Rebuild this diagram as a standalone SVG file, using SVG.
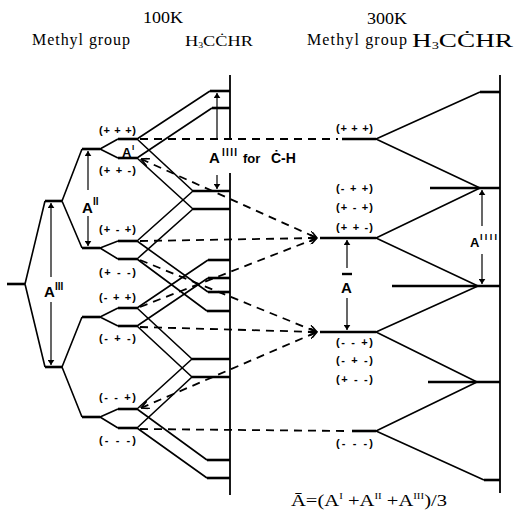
<svg xmlns="http://www.w3.org/2000/svg" width="516" height="512" viewBox="0 0 516 512">
  <defs>
    <!-- filled head for dimension arrows -->
    <marker id="dim" viewBox="0 0 6 8" refX="6" refY="4" markerUnits="userSpaceOnUse" markerWidth="5" markerHeight="7" orient="auto">
      <path d="M0,0 L6,4 L0,8 z" fill="#000"/>
    </marker>
    <!-- open head for dashed correlation lines -->
    <marker id="opn" viewBox="0 0 10 10" refX="10" refY="5" markerUnits="userSpaceOnUse" markerWidth="9" markerHeight="8" orient="auto-start-reverse">
      <path d="M0,0 L10,5 L0,10" fill="none" stroke="#000" stroke-width="2"/>
    </marker>
  </defs>
  <style>
    .lv{stroke:#000;stroke-width:2.6;fill:none;stroke-linecap:butt}
    .ln{stroke:#000;stroke-width:1.6;fill:none}
    .ds{stroke:#000;stroke-width:1.8;stroke-dasharray:8 6;fill:none}
    .ax{stroke:#000;stroke-width:1.8;fill:none}
    .dm{stroke:#000;stroke-width:1.2;fill:none}
    .hd{font-family:"Liberation Serif","Times New Roman",serif;fill:#000}
    .sp{font-family:"Liberation Sans",Arial,sans-serif;font-weight:bold;font-size:11px;fill:#000}
    .lb{font-family:"Liberation Sans",Arial,sans-serif;font-weight:bold;fill:#000}
  </style>
  <rect width="516" height="512" fill="#fff"/>

  <!-- column headings -->
  <g id="headings">
    <text class="hd" x="143" y="23" font-size="16" textLength="40" lengthAdjust="spacingAndGlyphs">100K</text>
    <text class="hd" x="32" y="45" font-size="16" textLength="98" lengthAdjust="spacing">Methyl group</text>
    <text class="hd" x="185" y="46" font-size="15" textLength="68" lengthAdjust="spacingAndGlyphs">H<tspan font-size="8" dy="2">3</tspan><tspan dy="-2">CĊHR</tspan></text>
    <text class="hd" x="367" y="24" font-size="16" textLength="40" lengthAdjust="spacingAndGlyphs">300K</text>
    <text class="hd" x="307" y="45" font-size="16" textLength="100" lengthAdjust="spacing">Methyl group</text>
    <text class="hd" x="412" y="47" font-size="19" textLength="101" lengthAdjust="spacingAndGlyphs">H<tspan font-size="10" dy="2">3</tspan><tspan dy="-2">CĊHR</tspan></text>
  </g>

  <!-- main vertical axes of the two H3CCHR columns -->
  <g id="axes">
    <line class="ax" x1="230" y1="75" x2="230" y2="138"/>
    <line class="ax" x1="230" y1="173" x2="230" y2="495"/>
    <line class="ax" x1="500" y1="75" x2="500" y2="493"/>
  </g>

  <!-- connectors -->
  <g id="connectors">
    <!-- A(III) and A(II) splittings -->
    <path class="ln" d="M25,284 L45,201 M25,284 L45,367"/>
    <path class="ln" d="M62,201 L82,149 M62,201 L82,248 M62,367 L82,317 M62,367 L82,417"/>
    <!-- A(I) splittings -->
    <path class="ln" d="M100,149 L118,139 M100,149 L118,158 M100,248 L118,241 M100,248 L118,259 M100,317 L118,308 M100,317 L118,326 M100,417 L118,409 M100,417 L118,428"/>
    <!-- methyl levels to H3CCHR (100K), split by A(IIII) -->
    <path class="ln" d="M137,139 L210,91 M137,139 L193,191 M137,158 L212,108 M137,158 L193,209"/>
    <path class="ln" d="M137,241 L193,191 M137,241 L208,292 M137,259 L193,209 M137,259 L207,311"/>
    <path class="ln" d="M137,308 L208,260 M137,308 L192,359 M137,326 L208,278 M137,326 L192,377"/>
    <path class="ln" d="M137,409 L192,359 M137,409 L207,460 M137,428 L192,377 M137,428 L207,478"/>
    <!-- 300K averaged levels to H3CCHR (300K) -->
    <path class="ln" d="M376,139 L480,92 M376,139 L480,188 M376,238 L480,188 M376,238 L478,286 M376,332 L478,286 M376,332 L477,382 M376,431 L477,382 M376,431 L484,480"/>
    <!-- correlation of 100K methyl states with 300K states -->
    <line class="ds" x1="140" y1="139" x2="338" y2="139"/>
    <line class="ds" x1="141" y1="159" x2="317" y2="238" marker-start="url(#opn)" marker-end="url(#opn)"/>
    <line class="ds" x1="140" y1="241" x2="317" y2="238" marker-end="url(#opn)"/>
    <line class="ds" x1="140" y1="260" x2="317" y2="332" marker-end="url(#opn)"/>
    <line class="ds" x1="140" y1="307" x2="317" y2="238" marker-end="url(#opn)"/>
    <line class="ds" x1="140" y1="327" x2="317" y2="332" marker-end="url(#opn)"/>
    <line class="ds" x1="141" y1="408" x2="317" y2="332" marker-start="url(#opn)" marker-end="url(#opn)"/>
    <line class="ds" x1="140" y1="429" x2="346" y2="431"/>
  </g>

  <!-- origin level -->
  <g id="lv0"><line class="lv" x1="7" y1="284" x2="25" y2="284"/></g>

  <!-- A(III) levels -->
  <g id="lv3a"><line class="lv" x1="45" y1="201" x2="62" y2="201"/></g>
  <g id="lv3b"><line class="lv" x1="45" y1="367" x2="62" y2="367"/></g>

  <!-- A(II) levels -->
  <g id="lv2a"><line class="lv" x1="82" y1="149" x2="100" y2="149"/></g>
  <g id="lv2b"><line class="lv" x1="82" y1="248" x2="100" y2="248"/></g>
  <g id="lv2c"><line class="lv" x1="82" y1="317" x2="100" y2="317"/></g>
  <g id="lv2d"><line class="lv" x1="82" y1="417" x2="100" y2="417"/></g>

  <!-- methyl group levels with spin labels -->
  <g id="m1"><line class="lv" x1="118" y1="139" x2="137" y2="139"/><text class="sp" x="99" y="134" textLength="37" lengthAdjust="spacing">(+ + +)</text></g>
  <g id="m2"><line class="lv" x1="118" y1="158" x2="137" y2="158"/><text class="sp" x="99" y="174" textLength="37" lengthAdjust="spacing">(+ + -)</text></g>
  <g id="m3"><line class="lv" x1="118" y1="241" x2="137" y2="241"/><text class="sp" x="99" y="233" textLength="37" lengthAdjust="spacing">(+ - +)</text></g>
  <g id="m4"><line class="lv" x1="118" y1="259" x2="137" y2="259"/><text class="sp" x="99" y="276" textLength="37" lengthAdjust="spacing">(+ - -)</text></g>
  <g id="m5"><line class="lv" x1="118" y1="308" x2="137" y2="308"/><text class="sp" x="99" y="301" textLength="37" lengthAdjust="spacing">(- + +)</text></g>
  <g id="m6"><line class="lv" x1="118" y1="326" x2="137" y2="326"/><text class="sp" x="99" y="342" textLength="37" lengthAdjust="spacing">(- + -)</text></g>
  <g id="m7"><line class="lv" x1="118" y1="409" x2="137" y2="409"/><text class="sp" x="99" y="401" textLength="37" lengthAdjust="spacing">(- - +)</text></g>
  <g id="m8"><line class="lv" x1="118" y1="428" x2="137" y2="428"/><text class="sp" x="99" y="444" textLength="37" lengthAdjust="spacing">(- - -)</text></g>

  <!-- H3CCHR levels at 100K -->
  <g id="h1"><line class="lv" x1="210" y1="91" x2="230" y2="91"/></g>
  <g id="h2"><line class="lv" x1="212" y1="108" x2="230" y2="108"/></g>
  <g id="h3"><line class="lv" x1="193" y1="191" x2="230" y2="191"/></g>
  <g id="h4"><line class="lv" x1="193" y1="209" x2="230" y2="209"/></g>
  <g id="h5"><line class="lv" x1="208" y1="260" x2="230" y2="260"/></g>
  <g id="h6"><line class="lv" x1="208" y1="278" x2="230" y2="278"/></g>
  <g id="h7"><line class="lv" x1="208" y1="292" x2="230" y2="292"/></g>
  <g id="h8"><line class="lv" x1="207" y1="311" x2="230" y2="311"/></g>
  <g id="h9"><line class="lv" x1="192" y1="359" x2="230" y2="359"/></g>
  <g id="h10"><line class="lv" x1="192" y1="377" x2="230" y2="377"/></g>
  <g id="h11"><line class="lv" x1="207" y1="460" x2="230" y2="460"/></g>
  <g id="h12"><line class="lv" x1="207" y1="478" x2="230" y2="478"/></g>

  <!-- methyl group levels at 300K -->
  <g id="t1"><line class="lv" x1="342" y1="139" x2="376" y2="139"/><text class="sp" x="336" y="132" textLength="37" lengthAdjust="spacing">(+ + +)</text></g>
  <g id="t2"><line class="lv" x1="320" y1="238" x2="376" y2="238"/>
    <text class="sp" x="336" y="192" textLength="37" lengthAdjust="spacing">(- + +)</text>
    <text class="sp" x="336" y="211" textLength="37" lengthAdjust="spacing">(+ - +)</text>
    <text class="sp" x="336" y="231" textLength="37" lengthAdjust="spacing">(+ + -)</text></g>
  <g id="t3"><line class="lv" x1="320" y1="332" x2="376" y2="332"/>
    <text class="sp" x="336" y="346" textLength="37" lengthAdjust="spacing">(- - +)</text>
    <text class="sp" x="336" y="364" textLength="37" lengthAdjust="spacing">(- + -)</text>
    <text class="sp" x="336" y="383" textLength="37" lengthAdjust="spacing">(+ - -)</text></g>
  <g id="t4"><line class="lv" x1="352" y1="431" x2="376" y2="431"/><text class="sp" x="336" y="447" textLength="37" lengthAdjust="spacing">(- - -)</text></g>

  <!-- H3CCHR levels at 300K -->
  <g id="r1"><line class="lv" x1="480" y1="92" x2="500" y2="92"/></g>
  <g id="r2"><line class="lv" x1="430" y1="188" x2="500" y2="188"/></g>
  <g id="r3"><line class="lv" x1="392" y1="286" x2="500" y2="286"/></g>
  <g id="r4"><line class="lv" x1="428" y1="382" x2="500" y2="382"/></g>
  <g id="r5"><line class="lv" x1="484" y1="480" x2="500" y2="480"/></g>

  <!-- coupling constant dimensions -->
  <g id="dims">
    <line class="dm" x1="51" y1="277" x2="51" y2="203" marker-end="url(#dim)"/>
    <line class="dm" x1="51" y1="302" x2="51" y2="365" marker-end="url(#dim)"/>
    <line class="dm" x1="88" y1="190" x2="88" y2="151" marker-end="url(#dim)"/>
    <line class="dm" x1="88" y1="216" x2="88" y2="246" marker-end="url(#dim)"/>
    <line class="dm" x1="217" y1="138" x2="217" y2="93" marker-end="url(#dim)"/>
    <line class="dm" x1="217" y1="175" x2="217" y2="189" marker-end="url(#dim)"/>
    <line class="dm" x1="347" y1="268" x2="347" y2="240" marker-end="url(#dim)"/>
    <line class="dm" x1="347" y1="298" x2="347" y2="330" marker-end="url(#dim)"/>
    <line class="dm" x1="482" y1="226" x2="482" y2="190" marker-end="url(#dim)"/>
    <line class="dm" x1="482" y1="254" x2="482" y2="284" marker-end="url(#dim)"/>
  </g>

  <!-- coupling constant labels -->
  <g id="labels">
    <text class="lb" x="44" y="297" font-size="15">A</text>
    <text class="lb" x="55" y="290" font-size="10">III</text>
    <text class="lb" x="82" y="213" font-size="15">A</text>
    <text class="lb" x="93" y="205" font-size="10">II</text>
    <text class="lb" x="122" y="157" font-size="13">A</text>
    <text class="lb" x="132" y="150" font-size="8">I</text>
    <text class="lb" x="209" y="163" font-size="15">A</text>
    <text class="lb" x="222" y="156" font-size="10" textLength="15" lengthAdjust="spacing">IIII</text>
    <text class="lb" x="243" y="163" font-size="13">for</text>
    <text class="lb" x="271" y="163" font-size="14">Ċ-H</text>
    <line x1="342" y1="274" x2="352" y2="274" stroke="#000" stroke-width="2.4"/>
    <text class="lb" x="341" y="293" font-size="15">A</text>
    <text class="lb" x="470" y="247" font-size="13">A</text>
    <text class="lb" x="480" y="240" font-size="9" textLength="17" lengthAdjust="spacing">IIII</text>
  </g>

  <!-- averaging relation -->
  <text class="hd" x="291" y="506" font-size="17" textLength="156" lengthAdjust="spacingAndGlyphs">Ā=(A<tspan font-size="9" dy="-7">I</tspan><tspan dy="7"> +A</tspan><tspan font-size="9" dy="-7">II</tspan><tspan dy="7"> +A</tspan><tspan font-size="9" dy="-7">III</tspan><tspan dy="7">)/3</tspan></text>
</svg>
